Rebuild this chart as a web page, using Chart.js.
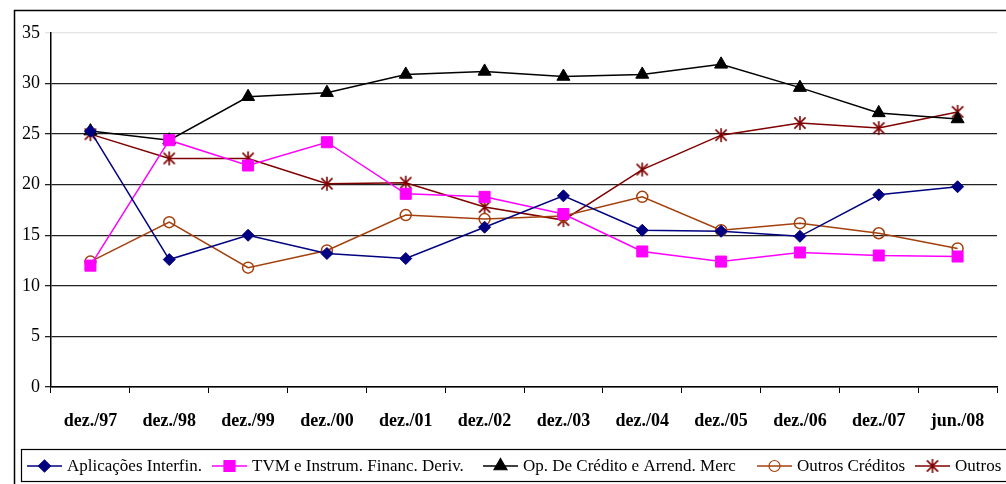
<!DOCTYPE html>
<html>
<head>
<meta charset="utf-8">
<script src="https://cdn.jsdelivr.net/npm/chart.js@4.4.1/dist/chart.umd.min.js"></script>
<style>
html,body{margin:0;padding:0;background:#fff;}
#wrap{position:relative;width:1006px;height:484px;}
</style>
</head>
<body>
<div id="wrap"><canvas id="c" width="1006" height="484"></canvas></div>
<script>
const categories = ['dez./97','dez./98','dez./99','dez./00','dez./01','dez./02','dez./03','dez./04','dez./05','dez./06','dez./07','jun./08'];
const aplicacoes = [25.3, 12.6, 15.0, 13.2, 12.7, 15.8, 18.9, 15.5, 15.4, 14.9, 19.0, 19.8];
const tvm = [12.0, 24.4, 21.9, 24.2, 19.1, 18.8, 17.1, 13.4, 12.4, 13.3, 13.0, 12.9];
const opCredito = [25.3, 24.4, 28.7, 29.1, 30.9, 31.2, 30.7, 30.9, 31.9, 29.6, 27.1, 26.5];
const outrosCreditos = [12.4, 16.3, 11.8, 13.5, 17.0, 16.6, 16.9, 18.8, 15.5, 16.2, 15.2, 13.7];
const outros = [25.0, 22.6, 22.6, 20.1, 20.2, 17.8, 16.5, 21.5, 24.9, 26.1, 25.6, 27.2];
const seriesNames = ['Aplicações Interfin.', 'TVM e Instrum. Financ. Deriv.', 'Op. De Crédito e Arrend. Merc', 'Outros Créditos', 'Outros'];
const yTicks = [0, 5, 10, 15, 20, 25, 30, 35];

function asterisk(color, size) {
  const cv = document.createElement('canvas');
  cv.width = size; cv.height = size;
  const g = cv.getContext('2d');
  g.strokeStyle = color; g.lineWidth = 1.6;
  const c = size / 2, r = size / 2 - 1;
  g.beginPath();
  g.moveTo(c, c - r); g.lineTo(c, c + r);
  const d = r * 0.8;
  g.moveTo(c - d, c - d); g.lineTo(c + d, c + d);
  g.moveTo(c - d, c + d); g.lineTo(c + d, c - d);
  g.stroke();
  return cv;
}
const starImg = asterisk('#800000', 16);

const styles = [
  {color:'#000080', pointStyle:'rectRot', radius:6, fill:'#000080'},
  {color:'#FF00FF', pointStyle:'rect', radius:7.8, fill:'#FF00FF'},
  {color:'#000000', pointStyle:'triangle', radius:7.5, fill:'#000000'},
  {color:'#A4400C', pointStyle:'circle', radius:5.5, fill:'rgba(0,0,0,0)'},
  {color:'#800000', pointStyle:starImg, radius:8, fill:'#800000'}
];
const dataArrays = [aplicacoes, tvm, opCredito, outrosCreditos, outros];

const datasets = dataArrays.map((d, i) => ({
  label: seriesNames[i],
  data: d,
  borderColor: styles[i].color,
  backgroundColor: styles[i].fill,
  pointBorderColor: styles[i].color,
  pointBackgroundColor: styles[i].fill,
  pointStyle: styles[i].pointStyle,
  pointRadius: styles[i].radius,
  pointHoverRadius: styles[i].radius,
  pointBorderWidth: i === 3 ? 1.5 : 1,
  borderWidth: 1.5,
  tension: 0,
  fill: false
}));

const FONT = '"Liberation Serif", "Times New Roman", serif';

const framePlugin = {
  id: 'frame',
  afterDraw(chart) {
    const ctx = chart.ctx;
    ctx.save();
    ctx.strokeStyle = '#000';
    ctx.lineWidth = 1.5;
    ctx.strokeRect(14.5, 10.5, 1010, 520);
    // legend box
    ctx.lineWidth = 1.2;
    ctx.strokeRect(21.5, 449.5, 1010, 32);
    // legend entries
    const starts = [27, 212, 483, 757, 915];
    const cy = 466;
    ctx.font = '17px ' + FONT;
    ctx.textBaseline = 'middle';
    ctx.textAlign = 'left';
    for (let i = 0; i < 5; i++) {
      const x0 = starts[i];
      const st = styles[i];
      ctx.strokeStyle = st.color;
      ctx.lineWidth = 1.5;
      ctx.beginPath();
      ctx.moveTo(x0, cy); ctx.lineTo(x0 + 35, cy);
      ctx.stroke();
      ctx.fillStyle = st.fill;
      ctx.strokeStyle = st.color;
      ctx.lineWidth = 1.2;
      Chart.helpers.drawPoint(ctx, {pointStyle: st.pointStyle, radius: st.radius, borderWidth: 1.2}, x0 + 17.5, cy);
      ctx.fillStyle = '#000';
      ctx.fillText(seriesNames[i], x0 + 40, cy + 1);
    }
    ctx.restore();
  }
};

new Chart(document.getElementById('c'), {
  type: 'line',
  data: { labels: categories, datasets },
  options: {
    responsive: false,
    animation: false,
    events: [],
    layout: { padding: { left: 0, top: 33, right: 7, bottom: 37 } },
    plugins: { legend: { display: false }, tooltip: { enabled: false } },
    scales: {
      x: {
        offset: true,
        grid: { drawOnChartArea: false, drawTicks: true, tickLength: 6, offset: true, color: '#000', lineWidth: 1 },
        border: { display: true, color: '#000', width: 1.5 },
        ticks: { color: '#000', padding: 18, maxRotation: 0, autoSkip: false, font: { family: FONT, size: 18, weight: 'bold' } },
        afterFit(s) { s.height = 60; }
      },
      y: {
        min: 0, max: 35,
        afterBuildTicks(s) { s.ticks = yTicks.map(v => ({ value: v })); },
        grid: {
          color: c => (c.tick && c.tick.value === 35) ? '#e4e4e4' : '#222',
          lineWidth: 1.3,
          tickLength: 6,
          drawTicks: true
        },
        border: { display: true, color: '#000', width: 1.5 },
        ticks: { color: '#000', padding: 5, font: { family: FONT, size: 18 } },
        afterFit(s) { s.width = 51; }
      }
    }
  },
  plugins: [framePlugin]
});
</script>
</body>
</html>
